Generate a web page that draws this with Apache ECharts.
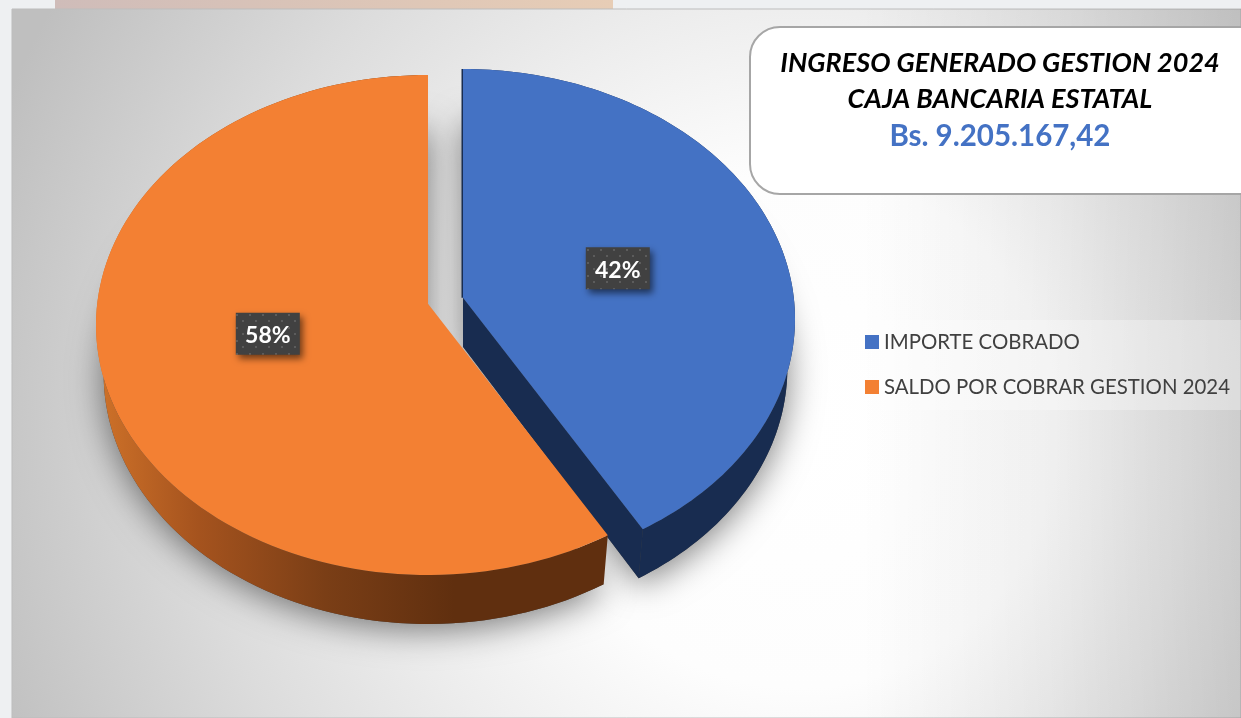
<!DOCTYPE html>
<html><head><meta charset="utf-8">
<style>html,body{margin:0;padding:0;background:#eef0f2}#c{width:1241px;height:718px}</style>
<script src="https://cdn.jsdelivr.net/npm/echarts@6/dist/echarts.min.js"></script>
</head><body><div id="c"></div>
<script>
const categories = ['IMPORTE COBRADO', 'SALDO POR COBRAR GESTION 2024'];
const values = [41.6, 58.4];
const titleLines = ['INGRESO GENERADO GESTION 2024', 'CAJA BANCARIA ESTATAL', 'Bs. 9.205.167,42'];
const sliceColors = ['#4472c4', '#f38033'];
const sliceCenters = [[463, 319], [428, 325]];
const labelNudge = [[0, 2], [-2, -2]];
const RX = 332, RY = 250, PERSP = -0.085, DEPTH = 49, BOTTOM_SCALE = 0.977;
const total = values.reduce((a, b) => a + b, 0);
const R = RX * Math.sqrt(1 - PERSP * PERSP);

function project(c, ang, rad, low) {
  const u = rad * Math.sin(ang), v = -rad * Math.cos(ang), d = 1 + PERSP * v;
  const sx = low ? BOTTOM_SCALE : 1;
  return [c[0] + sx * R * u / d, c[1] + (low ? DEPTH : 0) + RY * (v + PERSP) / d];
}
function arc(c, a0, a1, low) {
  const n = 120, p = [];
  for (let i = 0; i <= n; i++) p.push(project(c, a0 + (a1 - a0) * i / n, 1, low));
  return p;
}
const pat = document.createElement('canvas');
pat.width = pat.height = 13;
(function () {
  const g = pat.getContext('2d');
  g.fillStyle = '#414141'; g.fillRect(0, 0, 13, 13);
  g.fillStyle = '#5c5c5c';
  g.fillRect(2, 2, 2, 2); g.fillRect(8, 8, 2, 2);
})();

function makeRender(idx) {
  return function (params, api) {
    const v = api.value(0);
    let before = 0;
    for (let i = 0; i < idx; i++) before += values[i];
    const a0 = before / total * 2 * Math.PI, a1 = (before + v) / total * 2 * Math.PI;
    const c = sliceCenters[idx];
    const topArc = arc(c, a0, a1, false), lowArc = arc(c, a0, a1, true);
    const apexT = project(c, 0, 0, false), apexB = project(c, 0, 0, true);
    const wall = topArc.concat(lowArc.slice().reverse());
    const shadow = { shadowColor: 'rgba(0,0,0,0.5)', shadowBlur: 34, shadowOffsetX: 0, shadowOffsetY: 6 };
    const sideFill = idx === 0 ? '#182c50' : {
      type: 'linear', x: 0, y: 0, x2: 1, y2: 0,
      colorStops: [
        { offset: 0, color: '#cf7229' }, { offset: 0.2, color: '#a5531e' },
        { offset: 0.45, color: '#7a3e16' }, { offset: 0.7, color: '#602f0f' }, { offset: 1, color: '#602f0f' }
      ]
    };
    const children = [
      { type: 'polygon', z2: 1, shape: { points: [apexB].concat(lowArc) }, style: Object.assign({ fill: '#444' }, shadow) },
      { type: 'polygon', z2: 2, shape: { points: wall }, style: { fill: sideFill } }
    ];
    if (idx === 0) {
      const e = topArc[topArc.length - 1], eb = lowArc[lowArc.length - 1];
      children.push({ type: 'polygon', z2: 2, shape: { points: [apexT, e, eb, apexB] }, style: { fill: sideFill } });
      const s = topArc[0];
      children.push({ type: 'polygon', z2: 2, shape: { points: [[apexT[0] - 1.5, apexT[1]], [s[0] - 1.5, s[1]], s, apexT] }, style: { fill: sideFill } });
    }
    children.push({ type: 'polygon', z2: 3, shape: { points: [apexT].concat(topArc) }, style: { fill: sliceColors[idx] } });
    const mid = project(c, (a0 + a1) / 2, 0.49, false);
    const lx = mid[0] + labelNudge[idx][0], ly = mid[1] + labelNudge[idx][1];
    children.push({ type: 'rect', z2: 4, shape: { x: lx - 32, y: ly - 21, width: 64, height: 42 },
      style: { fill: { image: pat, repeat: 'repeat' }, shadowColor: 'rgba(0,0,0,0.55)', shadowBlur: 7, shadowOffsetX: 3, shadowOffsetY: 4 } });
    children.push({ type: 'text', z2: 5, x: lx, y: ly + 2,
      style: { text: Math.round(v / total * 100) + '%', fill: '#fff', font: 'bold 23px Lato, "Open Sans", sans-serif', align: 'center', verticalAlign: 'middle' } });
    return { type: 'group', children };
  };
}

const chart = echarts.init(document.getElementById('c'), null, { renderer: 'canvas' });
chart.setOption({
  animation: false,
  backgroundColor: '#eef0f2',
  title: {
    left: 995, top: 40, textAlign: 'center',
    text: '{a|' + titleLines[0] + '}\n{a|' + titleLines[1] + '}\n{b|' + titleLines[2] + '}',
    textStyle: { rich: {
      a: { fontFamily: 'Lato', fontSize: 27, fontWeight: 'bold', fontStyle: 'italic', color: '#000', lineHeight: 36, align: 'center' },
      b: { fontFamily: 'Lato', fontSize: 29.5, fontWeight: 'bold', color: '#4472c4', lineHeight: 38, align: 'center' }
    } }
  },
  legend: {
    orient: 'vertical', left: 860, top: 327, itemWidth: 14, itemHeight: 14, itemGap: 25, icon: 'rect',
    textStyle: { fontFamily: 'Lato', fontSize: 20.4, color: '#404040' },
    data: categories
  },
  graphic: { elements: [
    { type: 'rect', z: -5, shape: { x: 55, y: 0, width: 558, height: 9 }, style: { fill: { type: 'linear', x: 0, y: 0, x2: 1, y2: 0, colorStops: [{ offset: 0, color: '#cfbcb9' }, { offset: 1, color: '#e7cdb6' }] } } },
    { type: 'rect', z: -4, shape: { x: 12, y: 9, width: 1229, height: 709 }, style: { fill: { type: 'radial', x: 800, y: 430, r: 860, global: true, colorStops: [
      { offset: 0, color: '#ffffff' }, { offset: 0.3, color: '#fdfdfd' }, { offset: 0.5, color: '#ededed' }, { offset: 0.7, color: '#dcdcdc' }, { offset: 1, color: '#bfbfbf' }] }, stroke: '#bdbdbd', lineWidth: 1 } },
    { type: 'rect', z: -3, shape: { x: 860, y: 9, width: 381, height: 709 }, style: { fill: { type: 'linear', x: 0, y: 0, x2: 1, y2: 0, colorStops: [{ offset: 0, color: 'rgba(0,0,0,0)' }, { offset: 0.5, color: 'rgba(0,0,0,0.055)' }, { offset: 1, color: 'rgba(0,0,0,0.13)' }] } } },
    { type: 'rect', z: -2, shape: { x: 853, y: 320, width: 388, height: 90 }, style: { fill: 'rgba(255,255,255,0.3)' } },
    { type: 'rect', z: 5, shape: { x: 750, y: 27, width: 520, height: 167, r: 30 }, style: { fill: '#fff', stroke: '#a6a6a6', lineWidth: 2 } }
  ] },
  series: categories.map((name, i) => ({
    type: 'custom', name, coordinateSystem: 'none', silent: true, z: 2,
    itemStyle: { color: sliceColors[i] },
    renderItem: makeRender(i),
    data: [[values[i]]]
  }))
});
</script></body></html>
